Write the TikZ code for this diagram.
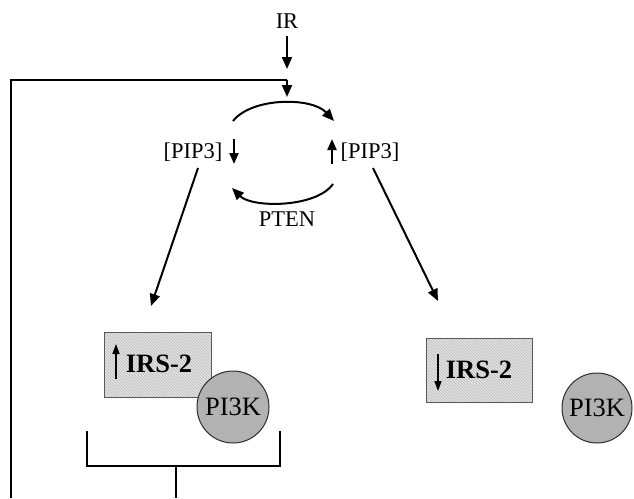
\documentclass[tikz,border=0pt]{standalone}
\usepackage{fontspec}
\setmainfont{Liberation Serif}
\usetikzlibrary{arrows.meta,patterns}
\begin{document}
\begin{tikzpicture}[x=1pt,y=-1pt,
  ln/.style={line width=2pt,black},
  arr/.style={ln,-{Triangle[length=12pt,width=10pt]}},
  piparr/.style={line width=2.2pt,-{Triangle[length=11pt,width=9pt]}},
  thinarr/.style={line width=1.5pt,-{Triangle[length=10pt,width=7pt]}},
  lbl/.style={font=\fontsize{22.5}{26}\selectfont,inner sep=0pt},
  irsbox/.style={draw=gray!70!black,line width=0.8pt,minimum width=107pt,minimum height=65pt,
    preaction={fill=gray!22},pattern=north west lines,pattern color=gray!55},
  pik/.style={circle,draw=gray!35!black,line width=1pt,fill=gray!60,minimum size=72pt,inner sep=0pt,
    font=\fontsize{26.5}{30}\selectfont},
  irstxt/.style={font=\fontsize{26.5}{30}\selectfont\bfseries,inner sep=0pt}]
\useasboundingbox (0,0) rectangle (634,498);
% IR input
\node[lbl] (ir) at (287,21) {IR};
\coordinate (irend) at (287,69);
\draw[arr] (ir.south) ++(0,7) -- (irend);
% feedback loop
\coordinate (fbbot) at (11,498);
\coordinate (fbtop) at (11,80);
\coordinate (fbjoin) at (287,80);
\coordinate (fbend) at (287,97);
\draw[ln] (fbbot) -- (fbtop) -- (fbjoin);
\draw[arr] (fbjoin) -- (fbend);
% PIP3 labels
\node[lbl] (pipL) at (193,152) {[PIP3]};
\node[lbl] (pipR) at (370,152) {[PIP3]};
\coordinate (pLa) at (234,139);
\coordinate (pLb) at (234,164);
\coordinate (pRa) at (332,164);
\coordinate (pRb) at (332,139);
\draw[piparr] (pLa) -- (pLb);
\draw[piparr] (pRa) -- (pRb);
% cycle arcs
\coordinate (t1) at (233,121);
\coordinate (t2) at (334,121);
\draw[arr] (t1) .. controls (252,97) and (312,97) .. (t2);
\coordinate (b1) at (333,184);
\coordinate (b2) at (232,188);
\draw[arr] (b1) .. controls (316,208) and (252,208) .. (b2);
\node[lbl] (pten) at (287,219) {PTEN};
% diagonal arrows
\coordinate (dL1) at (198,168);
\coordinate (dL2) at (151,306);
\coordinate (dR1) at (373,168);
\coordinate (dR2) at (438,301);
\draw[arr] (dL1) -- (dL2);
\draw[arr] (dR1) -- (dR2);
% left complex
\node[irsbox] (irsL) at (157.5,364.5) {};
\node[irstxt] (irsLt) at (159,364) {IRS-2};
\draw[thinarr] (116,379) -- (116,344);
\node[pik] (pikL) at (233,407) {PI3K};
% right
\node[irsbox,minimum width=106pt,minimum height=64pt] (irsR) at (479,370) {};
\node[irstxt] (irsRt) at (479,370) {IRS-2};
\draw[thinarr] (438,354) -- (438,391);
\node[pik,minimum size=70pt] (pikR) at (597,408) {PI3K};
% bracket
\coordinate (brL) at (87,431);
\coordinate (brLb) at (87,466);
\coordinate (brRb) at (280,466);
\coordinate (brR) at (280,431);
\coordinate (brM) at (176,466);
\coordinate (brMb) at (176,498);
\draw[ln] (brL) -- (brLb) -- (brRb) -- (brR);
\draw[ln] (brM) -- (brMb);
\end{tikzpicture}
\end{document}
